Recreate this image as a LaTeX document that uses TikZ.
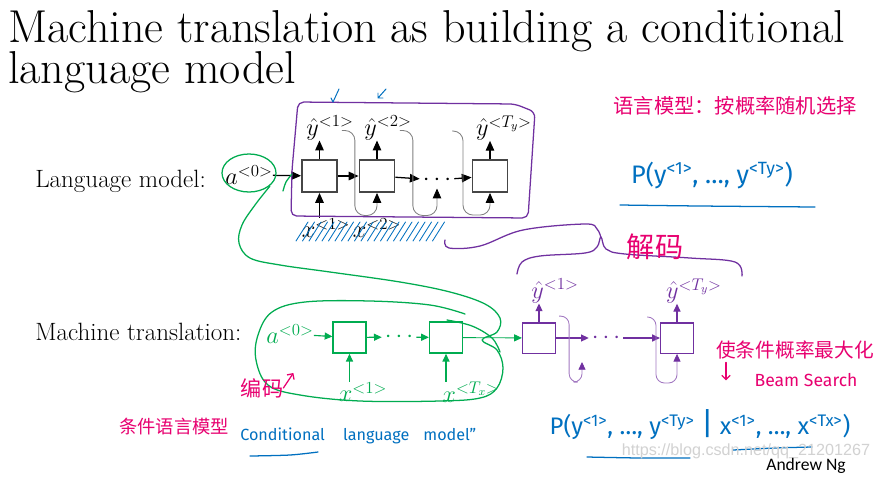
\documentclass[tikz,border=0pt]{standalone}
\usepackage{fontspec}
\setsansfont{Fira Sans}
\newfontfamily\cjk{Noto Sans CJK SC}
\newfontfamily\slidefont{Carlito}
\newfontfamily\markfont{Liberation Sans}
\usetikzlibrary{arrows.meta}

\definecolor{rnnpurple}{RGB}{112,48,160}
\definecolor{encgreen}{RGB}{0,172,80}
\definecolor{inkpink}{RGB}{232,0,112}
\definecolor{inkblue}{RGB}{0,112,192}
\definecolor{cellgray}{RGB}{70,70,70}

\tikzset{
    cell/.style={draw=cellgray, line width=1.3pt, minimum width=0.875cm, minimum height=0.8cm, inner sep=0pt},
    enccell/.style={draw=encgreen, line width=1pt, minimum width=0.82cm, minimum height=0.78cm, inner sep=0pt},
    deccell/.style={draw=rnnpurple, line width=1pt, minimum width=0.82cm, minimum height=0.76cm, inner sep=0pt},
    lbl/.style={inner sep=0pt, font=\fontsize{16.5}{18}\selectfont},
    dotsnode/.style={inner sep=2pt, font=\fontsize{16}{18}\selectfont},
    flow/.style={-{Triangle[length=7pt,width=6pt]}, line width=0.9pt},
    smallflow/.style={-{Triangle[length=5.5pt,width=5pt]}, line width=0.8pt},
    feed/.style={-{Triangle[length=7pt,width=6pt,color=black]}, draw=gray, line width=0.6pt, rounded corners=7pt},
    decfeed/.style={-{Triangle[length=5.5pt,width=5pt,color=rnnpurple]}, draw=rnnpurple!65, line width=0.6pt, rounded corners=6pt},
    pen/.style={line width=0.9pt, line cap=round, line join=round},
    pinkhand/.style={inkpink, inner sep=0pt, font=\cjk},
    bluehand/.style={inkblue, inner sep=0pt, font=\sffamily},
}

\begin{document}
\begin{tikzpicture}[x=0.025cm, y=-0.025cm]
    \fill[white] (0,0) rectangle (880,476);
    \useasboundingbox (0,0) rectangle (880,476);

    % Title
    \node[anchor=base west, inner sep=0pt, font=\fontsize{32.8}{33}\selectfont] (title1) at (8,42) {Machine translation as building a conditional};
    \node[anchor=base west, inner sep=0pt, font=\fontsize{32.8}{33}\selectfont] (title2) at (8,83) {language model};

    % Language model row
    \begin{scope}
        \node[anchor=base west, inner sep=0pt, font=\fontsize{17.8}{19}\selectfont] (lmname) at (35,187) {Language model:};
        \node[lbl] (la0) at (249,175) {$a^{<0>}$};
        \node[cell] (l1) at (319.5,176) {};
        \node[cell] (l2) at (377,176) {};
        \node[dotsnode] (ldots) at (437,180) {$\cdots$};
        \node[cell] (l3) at (490,176) {};
        \node[lbl] (ly1) at (330,128) {$\hat{y}^{<1>}$};
        \node[lbl] (ly2) at (388,128) {$\hat{y}^{<2>}$};
        \node[lbl] (ly3) at (504,128) {$\hat{y}^{<T_y>}$};
        \node[lbl] (lx1) at (326,228) {$x^{<1>}$};
        \node[lbl] (lx2) at (377,228) {$x^{<2>}$};
        \coordinate (lprev) at (452,131);
        \draw[flow] (la0) -- (l1);
        \draw[flow] (l1) -- (l2);
        \draw[flow] (l2) -- (ldots);
        \draw[flow] (ldots) -- (l3);
        \foreach \c in {1,2,3} {
            \draw[flow] (l\c.north) -- (l\c.north |- ly\c.south);
        }
        \draw[flow] (l1.south |- lx1.north) -- (l1.south);
        % outputs fed back as inputs
        \draw[feed] ([shift={(-12,-10)}]ly1.south east) -| ++(13,85) -| (l2.south);
        \draw[feed] ([shift={(-12,-10)}]ly2.south east) -| ++(13,85) -| (ldots.south);
        \draw[feed] (lprev) -| ++(11,84) -| (l3.south);
    \end{scope}

    % Machine translation row
    \begin{scope}
        \node[anchor=base west, inner sep=0pt, font=\fontsize{17.8}{19}\selectfont] (mtname) at (35,340) {Machine translation:};
        \node[lbl, encgreen] (ea0) at (290,334) {$a^{<0>}$};
        \node[enccell] (e1) at (349.5,337.5) {};
        \node[dotsnode, encgreen] (edots) at (399,337) {$\cdots$};
        \node[enccell] (e2) at (446,337.5) {};
        \node[lbl, encgreen] (ex1) at (363,392) {$x^{<1>}$};
        \node[lbl, encgreen] (ex2) at (471,392) {$x^{<T_x>}$};
        \node[deccell] (d1) at (539,338) {};
        \node[dotsnode, rnnpurple] (ddots) at (606,338) {$\cdots$};
        \node[deccell] (d2) at (677,338) {};
        \node[lbl, rnnpurple] (dy1) at (555,291) {$\hat{y}^{<1>}$};
        \node[lbl, rnnpurple] (dy2) at (694,291) {$\hat{y}^{<T_y>}$};
        \coordinate (dnext) at (582,362);
        \coordinate (dprev) at (647,317);
        \draw[smallflow, encgreen] (ea0) -- (e1);
        \draw[smallflow, encgreen] (e1) -- (edots);
        \draw[smallflow, encgreen] (edots) -- (e2);
        \draw[smallflow, encgreen] (e1.south |- ex1.north) -- (e1.south);
        \draw[smallflow, encgreen] (e2.south |- ex2.north) -- (e2.south);
        \draw[smallflow, encgreen, line width=0.6pt] (e2) -- (d1);
        \draw[smallflow, rnnpurple] (d1) -- (ddots);
        \draw[smallflow, rnnpurple] (ddots) -- (d2);
        \draw[smallflow, rnnpurple] (d1.north) -- (d1.north |- dy1.south);
        \draw[smallflow, rnnpurple] (d2.north) -- (d2.north |- dy2.south);
        \draw[decfeed] ([shift={(3,-6)}]d1.north east) -| ++(10,66) -| (dnext);
        \draw[decfeed] (dprev) -| ++(9,66) -| (d2.south);
    \end{scope}

    % purple pen: box round the language model, brace over the decoder
    \draw[pen, rnnpurple, rounded corners=4pt] (298,102) -- (515,104) -- (535,112) -- (528,218) -- (291,216) -- (292,170) -- cycle;
    \draw[pen, rnnpurple] plot[smooth, tension=0.6] coordinates {(445,240) (449,248) (480,246) (523,230) (585,224) (597,229) (601,238)};
    \draw[pen, rnnpurple] plot[smooth, tension=0.6] coordinates {(517,274) (522,262) (540,256) (585,253) (597,247) (601,237) (606,249) (625,254) (690,258) (735,262) (742,276)};

    % green pen
    \draw[pen, encgreen] (249,173) ellipse [x radius=27, y radius=19];
    \draw[pen, encgreen] plot[smooth] coordinates {(283,191) (286,182) (292,174)};
    \draw[pen, encgreen] plot[smooth, tension=0.6] coordinates {(270,186) (255,205) (242,225) (239,243) (250,258) (280,265) (330,272) (400,282) (450,292) (485,304) (500,318) (497,332) (482,340) (497,350) (503,368) (497,388) (480,398) (440,401) (360,401) (300,395) (268,385) (256,360) (258,335) (272,312) (305,302) (370,301) (430,305) (465,314)};
    \draw[pen, encgreen] plot[smooth, tension=0.6] coordinates {(447,320) (472,326) (492,338) (500,352)};

    % blue pen
    \draw[pen, inkblue, line width=0.7pt] (331,98) -- (333,102) -- (339,89);
    \draw[pen, inkblue, line width=0.7pt] (386,89) -- (378,98) -- (378,93) (378,98) -- (383,98);
    \foreach \k in {0,...,21} {
        \draw[pen, inkblue, line width=0.6pt] (296+\k*6.5,241) -- ++(12,-19);
    }
    \draw[pen, inkblue] plot[smooth] coordinates {(620,205) (700,206) (815,207)};
    \draw[pen, inkblue] plot[smooth] coordinates {(250,456) (290,455) (318,452)};
    \draw[pen, inkblue] plot[smooth] coordinates {(587,457) (640,458) (690,458)};
    \draw[pen, inkblue] plot[smooth] coordinates {(733,450) (775,448) (812,447)};

    % handwritten notes
    \node[pinkhand, font=\cjk\fontsize{14.4}{16}\selectfont] (lmnote) at (735,106) {语言模型：按概率随机选择};
    \node[bluehand, font=\sffamily\fontsize{18}{20}\selectfont] (lmprob) at (712,175) {P(y\textsuperscript{<1>}, …, y\textsuperscript{<Ty>})};
    \node[pinkhand, font=\cjk\fontsize{20}{22}\selectfont] (decnote) at (655,247) {解码};
    \node[pinkhand, font=\cjk\fontsize{15}{16}\selectfont] (encnote) at (262,388) {编码};
    \draw[pen, inkpink, -{Straight Barb[length=3pt]}] (encnote.east) -- ++(10,-15);
    \node[pinkhand, font=\cjk\fontsize{13}{15}\selectfont] (condnote) at (174,427) {条件语言模型};
    \node[bluehand, anchor=west, font=\sffamily\fontsize{11.5}{13}\selectfont] (condlm) at (240,436) {Conditional\hspace{13pt}language\hspace{10pt}model”};
    \node[pinkhand, font=\cjk\fontsize{14}{16}\selectfont] (maxnote) at (795,350) {使条件概率最大化};
    \draw[pen, inkpink, -{Straight Barb[length=3pt]}] ([shift={(10,3)}]maxnote.south west) -- ++(0,18);
    \node[pinkhand, font=\sffamily\fontsize{12.5}{14}\selectfont] (beam) at (806,380) {Beam Search};
    \node[bluehand, font=\sffamily\fontsize{17}{19}\selectfont] (mtprob) at (700,425) {P(y\textsuperscript{<1>}, …, y\textsuperscript{<Ty>} {\fontsize{22}{22}\selectfont|} x\textsuperscript{<1>}, …, x\textsuperscript{<Tx>})};

    % footer
    \node[gray!35, inner sep=0pt, font=\markfont\fontsize{11.5}{13}\selectfont] (mark) at (746,451) {https://blog.csdn.net/qq\_21201267};
    \node[inner sep=0pt, font=\slidefont\fontsize{12.5}{14}\selectfont] (author) at (806,466) {Andrew Ng};
\end{tikzpicture}
\end{document}
